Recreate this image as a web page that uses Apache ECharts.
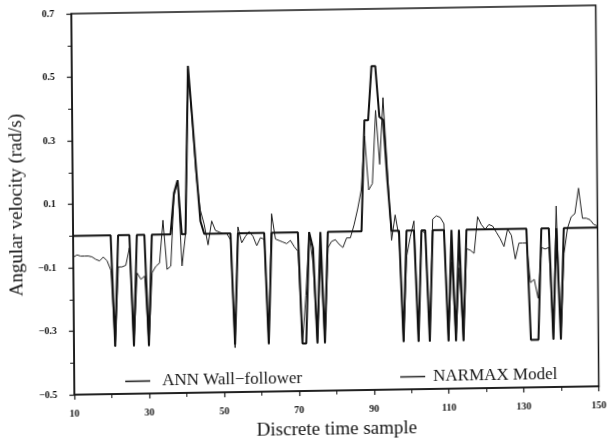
<!DOCTYPE html>
<html>
<head>
<meta charset="utf-8">
<script src="https://cdn.jsdelivr.net/npm/echarts@6/dist/echarts.min.js"></script>
<style>
html, body { margin: 0; padding: 0; background: #fff; }
/* the scanned figure is slightly skewed, mimic that */
#chart { width: 608px; height: 445px; transform: matrix(1, -0.016, 0.008, 1, 0, 0); transform-origin: 304px 222.5px; }
</style>
</head>
<body>
<div id="chart"></div>
<script>
// discrete time samples 10..150
var firstSample = 10;
var xTicks = [10, 30, 50, 70, 90, 110, 130, 150];
var yTicks = [-0.5, -0.3, -0.1, 0.1, 0.3, 0.5, 0.7];

// ANN wall-follower output (rad/s), one value per sample from 10
var annValues = [
    0, 0, 0, 0, 0, 0, 0, 0, 0, 0,                 // 10-19
    0, -0.35, 0, 0, 0, 0, -0.35, 0, 0, 0,         // 20-29
    -0.35, 0, 0, 0, 0, 0, 0, 0.13, 0.17, 0,       // 30-39
    0, 0.53, 0.37, 0.2, 0.04, 0, 0, 0, 0, 0,      // 40-49
    0, 0, 0, -0.35, 0, 0, 0, 0, 0, 0,             // 50-59
    0, 0, -0.35, 0, 0, 0, 0, 0, 0, 0,             // 60-69
    0, -0.35, -0.35, 0, -0.05, -0.35, 0, -0.35, 0, 0, // 70-79
    0, 0, 0, 0, 0, 0, 0, 0, 0.35, 0.35,           // 80-89
    0.52, 0.52, 0.36, 0.35, 0.16, 0, 0, 0, -0.35, 0, // 90-99
    0, 0, -0.35, 0, 0, -0.35, 0, 0, 0, 0,         // 100-109
    -0.35, 0, -0.35, 0, -0.35, 0, 0, 0, 0, 0,     // 110-119
    0, 0, 0, 0, 0, 0, 0, 0, 0, 0,                 // 120-129
    0, 0, -0.35, -0.35, -0.35, 0, 0, 0, -0.35, 0, // 130-139
    -0.35, 0, 0, 0, 0, 0, 0, 0, 0, 0,             // 140-149
    0                                             // 150
];

// NARMAX model output (rad/s)
var narmaxValues = [
    -0.067, -0.06, -0.064, -0.064, -0.064, -0.067, -0.075, -0.08, -0.068, -0.08,   // 10-19
    -0.11, -0.35, -0.1, -0.1, -0.095, -0.04, -0.35, -0.12, -0.14, -0.13,           // 20-29
    -0.35, -0.12, -0.1, -0.09, 0.045, -0.11, -0.1, 0.12, 0.17, -0.1,               // 30-39
    0.0, 0.52, 0.36, 0.18, 0.075, 0.03, -0.035, 0.04, 0.01, 0.005,                 // 40-49
    0.0, 0.0, -0.02, -0.36, 0.02, -0.03, -0.01, 0.005, -0.01, -0.04,               // 50-59
    -0.015, -0.02, -0.35, 0.06, -0.02, -0.025, -0.03, -0.035, -0.025, -0.045,      // 60-69
    -0.06, -0.35, -0.2, 0.0, -0.1, -0.35, -0.08, -0.35, -0.05, -0.03,              // 70-79
    -0.025, -0.04, -0.05, -0.02, -0.02, 0.02, 0.07, 0.13, 0.3, 0.13,               // 80-89
    0.15, 0.38, 0.21, 0.42, 0.2, -0.03, 0.05, -0.02, -0.35, -0.08,                 // 90-99
    -0.02, 0.03, -0.35, 0.0, -0.01, -0.35, 0.035, 0.045, 0.04, 0.02,               // 100-109
    -0.35, -0.1, -0.35, -0.12, -0.35, -0.06, -0.065, -0.075, 0.04, 0.015,          // 110-119
    0.0, 0.015, 0.01, -0.01, -0.03, -0.055, 0.0, -0.02, -0.095, -0.045,            // 120-129
    -0.045, -0.045, -0.17, -0.16, -0.22, -0.06, -0.065, -0.06, -0.35, 0.07,        // 130-139
    -0.35, -0.08, 0.0, 0.035, 0.045, 0.125, 0.03, 0.03, 0.025, 0.01,               // 140-149
    0.005                                                                          // 150
];

function toPairs(values) {
    var out = [];
    for (var i = 0; i < values.length; i++) {
        out.push([firstSample + i, values[i]]);
    }
    return out;
}

var serif = 'Liberation Serif';
var ink = '#151515';

var myChart = echarts.init(document.getElementById('chart'));
var option = {
    animation: false,
    backgroundColor: '#fff',
    grid: {
        left: 66,
        top: 10,
        width: 534,
        height: 385,
        show: true,
        borderColor: ink,
        borderWidth: 1.5,
        backgroundColor: 'transparent'
    },
    legend: [{
        data: ['ANN Wall−follower'],
        left: 119,
        top: 365,
        icon: 'rect',
        itemWidth: 25,
        itemHeight: 1.5,
        textStyle: { fontFamily: serif, fontSize: 17, color: ink, padding: [0, 0, 0, 7] }
    }, {
        data: ['NARMAX Model'],
        left: 394,
        top: 365,
        icon: 'rect',
        itemWidth: 25,
        itemHeight: 1.5,
        textStyle: { fontFamily: serif, fontSize: 17, color: ink, padding: [0, 0, 0, 3] }
    }],
    xAxis: [{
        type: 'value',
        min: 10,
        max: 150,
        name: 'Discrete time sample',
        nameLocation: 'middle',
        nameGap: 30,
        nameTextStyle: { fontFamily: serif, fontSize: 19, color: ink },
        axisLine: { show: true, onZero: false, lineStyle: { color: ink, width: 1.5 } },
        axisTick: { show: true, length: 5, customValues: xTicks, lineStyle: { color: ink, width: 1.2 } },
        axisLabel: {
            customValues: xTicks,
            margin: 14,
            fontFamily: serif,
            fontSize: 10,
            fontWeight: 'bold',
            color: ink
        },
        splitLine: { show: false }
    }, {
        // minor ticks every 10 samples
        type: 'value',
        min: 10,
        max: 150,
        interval: 10,
        position: 'bottom',
        axisLine: { show: false, onZero: false },
        axisTick: { show: true, length: 4, lineStyle: { color: ink, width: 1 } },
        axisLabel: { show: false },
        splitLine: { show: false }
    }],
    yAxis: [{
        type: 'value',
        min: -0.5,
        max: 0.7,
        name: 'Angular velocity (rad/s)',
        nameLocation: 'middle',
        nameGap: 40,
        nameTextStyle: { fontFamily: serif, fontSize: 19, color: ink },
        axisLine: { show: true, onZero: false, lineStyle: { color: ink, width: 1.5 } },
        axisTick: { show: true, length: 5, customValues: yTicks, lineStyle: { color: ink, width: 1.2 } },
        axisLabel: {
            customValues: yTicks,
            margin: 17,
            fontFamily: serif,
            fontSize: 10,
            fontWeight: 'bold',
            color: ink,
            formatter: function (v) {
                return (Math.round(v * 10) / 10).toFixed(1).replace('-', '−');
            }
        },
        splitLine: { show: false }
    }, {
        type: 'value',
        min: -0.5,
        max: 0.7,
        interval: 0.1,
        position: 'left',
        axisLine: { show: false, onZero: false },
        axisTick: { show: true, length: 4, lineStyle: { color: ink, width: 1 } },
        axisLabel: { show: false },
        splitLine: { show: false }
    }],
    series: [{
        name: 'ANN Wall−follower',
        type: 'line',
        symbol: 'none',
        color: '#111',
        lineStyle: { color: '#111', width: 2 },
        data: toPairs(annValues),
        z: 3
    }, {
        name: 'NARMAX Model',
        type: 'line',
        symbol: 'none',
        color: '#222',
        lineStyle: { color: '#222', width: 1 },
        data: toPairs(narmaxValues),
        z: 2
    }]
};
myChart.setOption(option);
</script>
</body>
</html>
